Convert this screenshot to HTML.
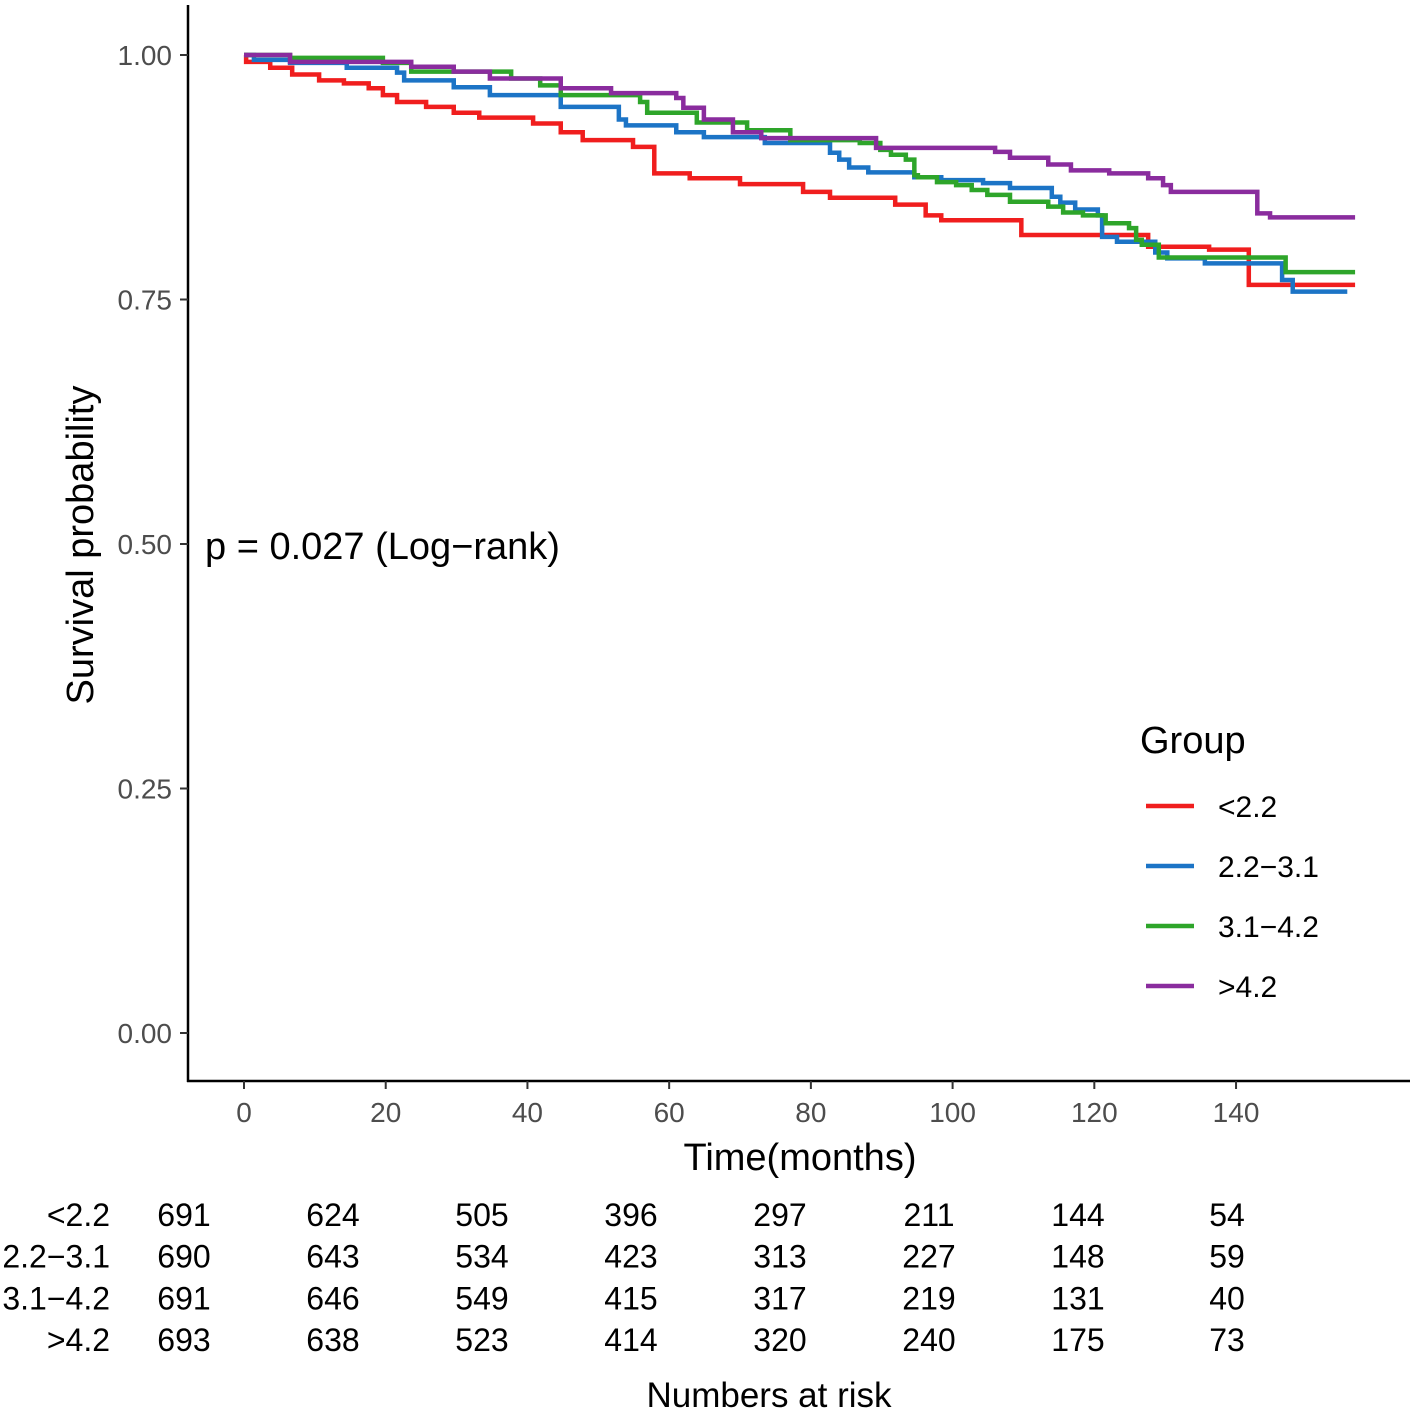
<!DOCTYPE html>
<html><head><meta charset="utf-8"><style>
html,body{margin:0;padding:0;background:#fff;}
svg{display:block;font-family:"Liberation Sans",sans-serif;}
</style></head><body>
<svg id="chart" width="1418" height="1421" viewBox="0 0 1418 1421" xmlns="http://www.w3.org/2000/svg">
<g id="axes"></g>
<g id="curves"></g>
<text x="205" y="559" font-size="38" fill="#000">p = 0.027 (Log−rank)</text>
<text x="0" y="0" font-size="38" fill="#000" text-anchor="middle" transform="translate(93,545) rotate(-90)">Survival probability</text>
<text x="800" y="1170" font-size="38" fill="#000" text-anchor="middle">Time(months)</text>
<g id="legend">
<text x="1140" y="753" font-size="38" fill="#000">Group</text>
</g>
<g id="risk"></g>
<text x="769" y="1407" font-size="35" fill="#000" text-anchor="middle">Numbers at risk</text>
</svg>
<script>
const groups = ['<2.2','2.2−3.1','3.1−4.2','>4.2'];
const colors = ['#f01e1e','#1c74c6','#2ea52a','#8a2c9e'];
const redSurv = [1,.993,.987,.980,.974,.971,.966,.959,.952,.947,.941,.936,.930,.921,.913,.906,.879,.874,.868,.860,.854,.847,.836,.831,.816,.804,.801,.765];
const redEnd  = [0.3,3.7,6.8,10.6,14.1,17.6,19.6,21.6,25.7,29.6,33.2,40.8,44.7,47.8,54.9,57.9,62.9,70.0,78.9,82.7,91.9,96.2,98.4,109.7,127.6,136.2,141.8,156.8];
const blueSurv = [1,.995,.992,.987,.982,.974,.967,.959,.947,.934,.928,.921,.916,.910,.900,.893,.885,.880,.875,.872,.869,.864,.855,.849,.842,.836,.814,.809,.798,.792,.787,.770,.758];
const blueEnd  = [1.4,6.5,14.5,21.6,22.6,29.6,34.7,44.7,52.9,53.9,61.0,64.9,73.5,82.7,84.0,85.4,88.1,94.6,98.4,104.3,108.1,114.0,115.2,117.3,120.5,121.1,123.2,128.6,130.3,135.6,146.5,148.0,155.7];
const greenSurv = [1,.997,.992,.983,.976,.969,.959,.952,.941,.931,.923,.913,.910,.903,.898,.893,.877,.875,.870,.867,.862,.857,.850,.845,.839,.836,.828,.823,.811,.806,.793,.778];
const greenEnd  = [6.5,19.6,23.6,37.7,41.8,44.7,55.9,56.9,63.9,71.0,77.1,86.9,89.8,91.3,93.4,94.6,95.1,97.8,100.5,102.7,104.9,108.1,113.5,115.6,118.4,121.6,124.9,125.9,126.7,129.1,147.0,156.8];
const purpleSurv = [1,.993,.988,.983,.976,.966,.961,.956,.946,.934,.921,.915,.905,.901,.895,.888,.882,.879,.874,.867,.860,.838,.834];
const purpleEnd  = [6.5,23.6,29.6,34.7,44.7,51.8,61.0,62.0,64.9,69.0,73.0,89.2,106.0,108.1,113.5,116.7,122.1,127.6,129.7,130.8,143.0,144.8,156.8];
const xTicks = [0,20,40,60,80,100,120,140];
const yTicks = [0,0.25,0.5,0.75,1.0];
const yTickLabels = ['0.00','0.25','0.50','0.75','1.00'];
const riskTimes = [0,20,40,60,80,100,120,140];
const riskRed = [691,624,505,396,297,211,144,54];
const riskBlue = [690,643,534,423,313,227,148,59];
const riskGreen = [691,646,549,415,317,219,131,40];
const riskPurple = [693,638,523,414,320,240,175,73];

const NS='http://www.w3.org/2000/svg';
const X = t => 244 + t*7.086;
const Y = s => 1033 - s*978;
const RX = t => 184 + t*7.45;
function mk(tag, attrs, parent, txt){const e=document.createElementNS(NS,tag);for(const k in attrs)e.setAttribute(k,attrs[k]);if(txt!==undefined)e.textContent=txt;parent.appendChild(e);return e;}

const axes=document.getElementById('axes');
let a=mk('line',{x1:188,y1:5,x2:188,y2:1082,stroke:'#000','stroke-width':2.5},axes);


a=mk('line',{x1:187,y1:1081,x2:1410,y2:1081,stroke:'#000','stroke-width':2.5},axes);


yTicks.forEach((v,i)=>{
  const t=mk('line',{x1:180,y1:Y(v),x2:188,y2:Y(v),stroke:'#333','stroke-width':2},axes);
  
  
  const l=mk('text',{x:172,y:Y(v)+10,'font-size':28,fill:'#4d4d4d','text-anchor':'end'},axes,yTickLabels[i]);
  
  
});
xTicks.forEach(v=>{
  const t=mk('line',{x1:X(v),y1:1081,x2:X(v),y2:1089,stroke:'#333','stroke-width':2},axes);
  
  
  const l=mk('text',{x:X(v),y:1122,'font-size':28,fill:'#4d4d4d','text-anchor':'middle'},axes,String(v));
  
  
});

const curves=document.getElementById('curves');
const series=[[redSurv,redEnd],[blueSurv,blueEnd],[greenSurv,greenEnd],[purpleSurv,purpleEnd]];
const names=['curve-lt-2-2','curve-2-2-to-3-1','curve-3-1-to-4-2','curve-gt-4-2'];
series.forEach((s,i)=>{
  const [sv,en]=s;let d='M'+X(0)+' '+Y(sv[0]);let prev=0;
  for(let k=0;k<sv.length;k++){
    if(k>0)d+=' L'+X(prev)+' '+Y(sv[k]);
    d+=' L'+X(en[k])+' '+Y(sv[k]);prev=en[k];
  }
  const p=mk('path',{d:d,fill:'none',stroke:colors[i],'stroke-width':4.5},curves);
  
  
});

const legend=document.getElementById('legend');
groups.forEach((g,i)=>{
  const y=806+i*60;
  const l=mk('line',{x1:1146,y1:y,x2:1194,y2:y,stroke:colors[i],'stroke-width':4.5},legend);
  
  
  const t=mk('text',{x:1218,y:y+11,'font-size':30,fill:'#000'},legend,g);
  
  
});

const risk=document.getElementById('risk');
const riskRows=[riskRed,riskBlue,riskGreen,riskPurple];
riskRows.forEach((row,i)=>{
  const y=1226+i*41.7;
  const lab=mk('text',{x:110,y:y,'font-size':32,fill:'#000','text-anchor':'end'},risk,groups[i]);
  
  
  row.forEach((n,j)=>{
    const t=mk('text',{x:RX(riskTimes[j]),y:y,'font-size':32,fill:'#000','text-anchor':'middle'},risk,String(n));
    
    
  });
});
</script>
</body></html>
